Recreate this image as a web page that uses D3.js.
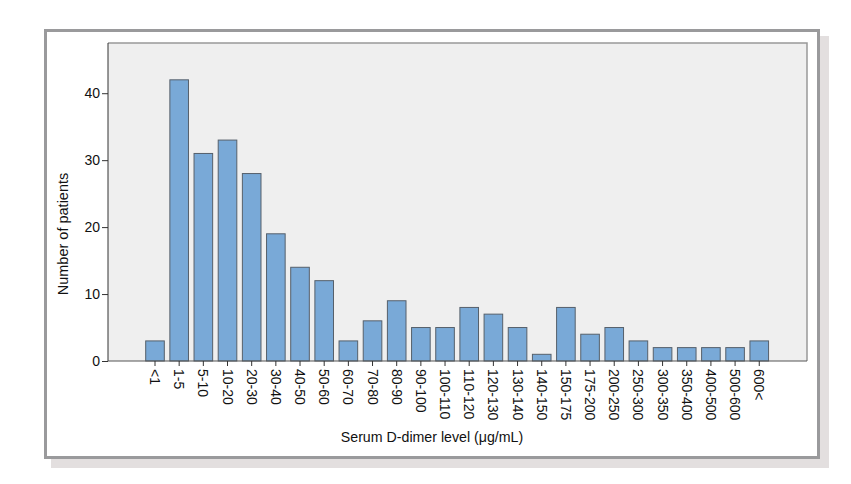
<!DOCTYPE html>
<html><head><meta charset="utf-8">
<script src="https://cdn.jsdelivr.net/npm/d3@7"></script>
<style>body{margin:0;background:#fff;}svg{display:block;font-family:"Liberation Sans",Arial,sans-serif;}</style>
</head><body><svg id="c" width="851" height="484"></svg>
<script>
const categories = ["<1","1-5","5-10","10-20","20-30","30-40","40-50","50-60","60-70","70-80","80-90","90-100","100-110","110-120","120-130","130-140","140-150","150-175","175-200","200-250","250-300","300-350","350-400","400-500","500-600","600<"];
const counts = [3,42,31,33,28,19,14,12,3,6,9,5,5,8,7,5,1,8,4,5,3,2,2,2,2,3];
const yTicks = [0,10,20,30,40];
const xTitle = "Serum D-dimer level (\u03bcg/mL)";
const yTitle = "Number of patients";

const svg = d3.select("#c");
// shadow + frame
svg.append("rect").attr("x",51).attr("y",36).attr("width",778).attr("height",432).attr("fill","#e3dfdf");
svg.append("rect").attr("x",45.5).attr("y",30.5).attr("width",773).attr("height",427)
  .attr("fill","#fff").attr("stroke","#9a9a9c").attr("stroke-width",3);

const plot = {l:108, r:807, t:43, b:361};
const y = d3.scaleLinear().domain([0,47.5]).range([plot.b, plot.t]);
const step = 24.17;
const x = d3.scaleBand().domain(categories)
  .range([155 - step/2, 155 - step/2 + step*categories.length])
  .paddingInner(0.23).paddingOuter(0.115);

svg.append("rect").attr("x",plot.l).attr("y",plot.t).attr("width",plot.r-plot.l).attr("height",plot.b-plot.t).attr("fill","#efefef");
svg.append("path").attr("d",`M${plot.l},${plot.t}H${plot.r}V${plot.b}`).attr("fill","none").attr("stroke","#999").attr("stroke-width",1.5);

svg.append("g").selectAll("rect").data(categories).join("rect")
  .attr("x",d=>x(d)).attr("width",x.bandwidth())
  .attr("y",(d,i)=>y(counts[i])).attr("height",(d,i)=>plot.b-y(counts[i]))
  .attr("fill","#79a9d7").attr("stroke","#56606b").attr("stroke-width",1);

// y axis
const ya = svg.append("g").attr("transform",`translate(${plot.l},0)`)
  .call(d3.axisLeft(y).tickValues(yTicks).tickSize(6).tickPadding(2).tickSizeOuter(0));
ya.select(".domain").attr("stroke","#333").attr("d",`M0,${plot.t}V${plot.b}`);
ya.selectAll(".tick line").attr("stroke","#333");
ya.selectAll(".tick text").style("font-size","14px").attr("fill","#111").style("font-family","Liberation Sans, Arial, sans-serif");

// x axis
const xa = svg.append("g").attr("transform",`translate(0,${plot.b})`)
  .call(d3.axisBottom(x).tickSize(5).tickSizeOuter(0));
xa.select(".domain").attr("stroke","#555").attr("d",`M${plot.l},0H${plot.r}`);
xa.selectAll(".tick line").attr("stroke","#333");
xa.selectAll(".tick text").style("font-size","14px").attr("fill","#111").style("font-family","Liberation Sans, Arial, sans-serif")
  .attr("transform","rotate(90)").attr("x",8).attr("y",0).attr("dy","0.35em").attr("text-anchor","start");

svg.append("text").attr("x",432).attr("y",442).attr("text-anchor","middle").style("font-size","14.2px").attr("fill","#111").text(xTitle);
svg.append("text").attr("transform","translate(68,234) rotate(-90)").attr("text-anchor","middle").style("font-size","14.5px").attr("fill","#111").text(yTitle);
</script></body></html>
